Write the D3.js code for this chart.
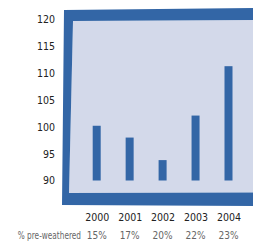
<!DOCTYPE html>
<html>
<head>
<meta charset="utf-8">
<script src="https://cdn.jsdelivr.net/npm/d3@7"></script>
<style>
  body { margin: 0; background: #fff; }
  text { font-family: "DejaVu Sans", sans-serif; font-stretch: condensed; font-size: 10.5px; }
  .domain, .tick line { display: none; }
</style>
</head>
<body>
<svg id="chart" width="253" height="241"></svg>
<script>
var years = ["2000", "2001", "2002", "2003", "2004"];
var values = [100.2, 98.0, 93.8, 102.1, 111.3];
var preWeathered = ["15%", "17%", "20%", "22%", "23%"];
var yTicks = [90, 95, 100, 105, 110, 115, 120];

var blue = "#3366a6", panel = "#d3d9ea";

var svg = d3.select("#chart");

var y = d3.scaleLinear().domain([90, 120]).range([180.5, 19.5]);
var x = d3.scalePoint().domain(years).range([96.7, 228.5]);

// hand-drawn looking frame: outer shape minus inner panel
var outer = [[64, 10], [262, 8], [262, 206], [62, 205]];
var inner = [[73, 21], [262, 20], [262, 192.5], [69, 193]];
var line = d3.line().curve(d3.curveLinearClosed);

svg.append("path")
    .attr("d", line(inner))
    .attr("fill", panel);

svg.append("path")
    .attr("d", line(outer) + line(inner))
    .attr("fill", blue)
    .attr("fill-rule", "evenodd");

svg.selectAll("rect.bar")
    .data(values)
    .enter().append("rect")
    .attr("class", "bar")
    .attr("x", function (d, i) { return x(years[i]) - 4; })
    .attr("y", function (d) { return y(d); })
    .attr("width", 8)
    .attr("height", function (d) { return y(90) - y(d); })
    .attr("fill", blue);

// y axis labels
var yAxis = d3.axisLeft(y).tickValues(yTicks).tickSize(0).tickPadding(0);
svg.append("g")
    .attr("transform", "translate(55,0)")
    .call(yAxis)
    .attr("font-size", null)
    .attr("font-family", null)
    .selectAll("text")
    .attr("fill", "#222");

// year labels
var xAxis = d3.axisBottom(x).tickSize(0).tickPadding(0);
svg.append("g")
    .attr("transform", "translate(0,214)")
    .call(xAxis)
    .attr("font-size", null)
    .attr("font-family", null)
    .selectAll("text")
    .attr("fill", "#222");

// percent row (label squeezed horizontally to mimic the narrow face)
svg.append("text")
    .attr("transform", "translate(81,239) scale(0.78,1)")
    .attr("text-anchor", "end")
    .attr("fill", "#666")
    .text("% pre-weathered");

svg.selectAll("text.pct")
    .data(preWeathered)
    .enter().append("text")
    .attr("class", "pct")
    .attr("x", function (d, i) { return x(years[i]); })
    .attr("y", 239)
    .attr("text-anchor", "middle")
    .attr("fill", "#666")
    .style("font-size", "10px")
    .text(function (d) { return d; });
</script>
</body>
</html>
